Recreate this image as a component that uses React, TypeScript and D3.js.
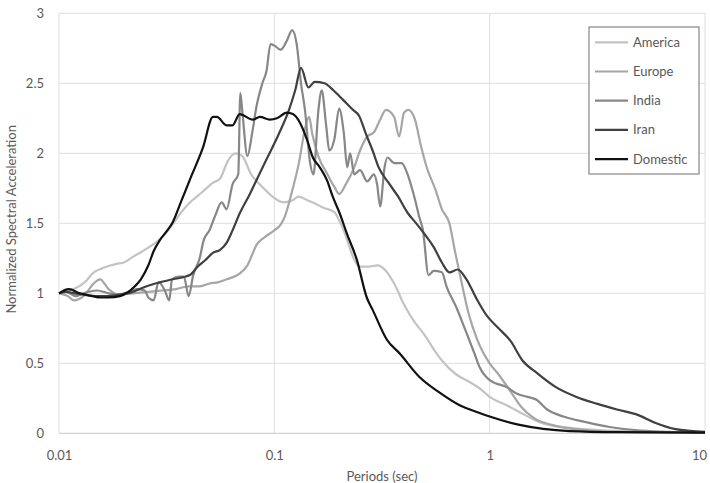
import { useRef, useEffect, FC } from 'react';
import * as d3 from 'd3';

// Normalized response spectra, period (sec) vs Sa
const americaT = [0.01, 0.0117, 0.0132, 0.0145, 0.016, 0.0185, 0.02, 0.022, 0.025, 0.028, 0.031, 0.034, 0.037, 0.04, 0.046, 0.052, 0.056, 0.061, 0.066, 0.071, 0.078, 0.088, 0.1, 0.11, 0.12, 0.13, 0.14, 0.15, 0.17, 0.19, 0.2, 0.21, 0.22, 0.235, 0.25, 0.275, 0.3, 0.33, 0.36, 0.4, 0.45, 0.5, 0.55, 0.6, 0.7, 0.8, 0.9, 1.0, 1.2, 1.4, 1.7, 2.3, 3.5, 10];
const americaSa = [1.0, 1.03, 1.08, 1.15, 1.18, 1.21, 1.22, 1.26, 1.31, 1.36, 1.42, 1.5, 1.58, 1.64, 1.72, 1.79, 1.82, 1.95, 2.0, 1.98, 1.85, 1.76, 1.68, 1.65, 1.66, 1.69, 1.67, 1.65, 1.61, 1.58, 1.52, 1.45, 1.36, 1.24, 1.19, 1.19, 1.2, 1.16, 1.07, 0.92, 0.79, 0.7, 0.6, 0.52, 0.42, 0.37, 0.32, 0.26, 0.2, 0.145, 0.08, 0.04, 0.02, 0.005];

const europeT = [0.01, 0.011, 0.0117, 0.013, 0.0145, 0.0155, 0.017, 0.019, 0.022, 0.026, 0.03, 0.035, 0.04, 0.045, 0.05, 0.055, 0.06, 0.069, 0.075, 0.083, 0.09, 0.1, 0.107, 0.112, 0.12, 0.13, 0.14, 0.145, 0.15, 0.16, 0.175, 0.19, 0.2, 0.215, 0.235, 0.25, 0.27, 0.29, 0.31, 0.33, 0.36, 0.38, 0.4, 0.42, 0.45, 0.48, 0.51, 0.56, 0.6, 0.65, 0.69, 0.74, 0.8, 0.87, 0.93, 1.0, 1.1, 1.25, 1.4, 1.6, 2.0, 2.7, 4, 10];
const europeSa = [1.0, 0.98, 0.95, 0.98, 1.07, 1.1, 1.03, 0.99, 1.0, 1.01, 1.02, 1.03, 1.05, 1.05, 1.07, 1.08, 1.1, 1.14, 1.2, 1.35, 1.4, 1.45, 1.49, 1.55, 1.71, 1.93, 2.2, 2.26, 2.14, 1.98, 1.86, 1.76, 1.71, 1.78, 1.9, 2.02, 2.12, 2.15, 2.24, 2.31, 2.26, 2.12, 2.29, 2.31, 2.24, 2.05, 1.9, 1.74, 1.6, 1.5, 1.3, 1.08, 0.85, 0.68, 0.58, 0.5, 0.42, 0.3, 0.19, 0.11, 0.055, 0.025, 0.01, 0.003];

const indiaT = [0.01, 0.0108, 0.012, 0.013, 0.015, 0.017, 0.019, 0.021, 0.023, 0.025, 0.026, 0.0275, 0.029, 0.031, 0.0325, 0.0335, 0.036, 0.038, 0.04, 0.042, 0.045, 0.047, 0.05, 0.053, 0.057, 0.06, 0.064, 0.068, 0.0695, 0.071, 0.075, 0.079, 0.083, 0.088, 0.092, 0.096, 0.1, 0.107, 0.114, 0.121, 0.127, 0.133, 0.139, 0.146, 0.152, 0.16, 0.166, 0.174, 0.18, 0.19, 0.2, 0.21, 0.218, 0.225, 0.235, 0.25, 0.27, 0.29, 0.3, 0.31, 0.325, 0.335, 0.36, 0.39, 0.42, 0.45, 0.47, 0.49, 0.52, 0.55, 0.6, 0.63, 0.7, 0.77, 0.85, 0.9, 1.0, 1.2, 1.35, 1.5, 1.65, 1.85, 2.2, 2.8, 3.6, 5, 10];
const indiaSa = [1.0, 1.01, 0.98, 1.0, 1.02, 1.0, 0.99, 1.01, 1.03, 1.02, 0.97, 0.95, 1.08, 1.02, 0.95, 1.1, 1.12, 1.12, 0.98, 1.13, 1.25, 1.38, 1.45, 1.55, 1.65, 1.6, 1.78, 1.85, 2.43, 2.3, 1.98, 2.15, 2.35, 2.5, 2.59, 2.78, 2.77, 2.74, 2.8, 2.88, 2.78, 2.5, 2.3, 1.95, 1.85, 2.3, 2.45, 2.2, 2.02, 2.1, 2.32, 2.15, 1.9, 2.0, 1.85, 1.88, 1.8, 1.85, 1.78, 1.62, 1.9, 1.97, 1.93, 1.93, 1.83, 1.67, 1.55, 1.45, 1.13, 1.16, 1.15, 1.05, 0.9, 0.74, 0.57, 0.47, 0.38, 0.33, 0.28, 0.26, 0.24, 0.17, 0.12, 0.08, 0.045, 0.02, 0.005];

const iranT = [0.01, 0.0108, 0.0118, 0.013, 0.0148, 0.0168, 0.019, 0.022, 0.0245, 0.028, 0.0338, 0.0405, 0.044, 0.048, 0.052, 0.056, 0.06, 0.064, 0.069, 0.077, 0.0857, 0.095, 0.105, 0.117, 0.125, 0.133, 0.144, 0.154, 0.171, 0.188, 0.209, 0.232, 0.247, 0.266, 0.286, 0.305, 0.339, 0.376, 0.418, 0.45, 0.5, 0.55, 0.6, 0.65, 0.71, 0.78, 0.87, 0.97, 1.1, 1.25, 1.42, 1.66, 2.03, 2.53, 3.17, 3.9, 4.9, 5.9, 7.3, 10];
const iranSa = [1.0, 1.01, 1.0, 0.99, 0.98, 0.98, 0.99, 1.01, 1.04, 1.07, 1.1, 1.13, 1.19, 1.24, 1.29, 1.31, 1.36, 1.45, 1.57, 1.71, 1.86, 2.0, 2.14, 2.31, 2.45, 2.61, 2.47, 2.51, 2.5, 2.45, 2.38, 2.31, 2.27, 2.14, 2.02, 1.9, 1.79, 1.69, 1.57, 1.51, 1.42, 1.33, 1.22, 1.15, 1.17, 1.1, 0.96, 0.84, 0.75, 0.66, 0.52, 0.43, 0.33, 0.26, 0.21, 0.17, 0.13, 0.074, 0.03, 0.01];

const domesticT = [0.01, 0.0111, 0.0125, 0.0143, 0.0155, 0.017, 0.0192, 0.021, 0.0225, 0.024, 0.026, 0.0275, 0.0294, 0.0315, 0.0338, 0.037, 0.0405, 0.0466, 0.0519, 0.0541, 0.06, 0.064, 0.069, 0.0795, 0.0857, 0.0953, 0.1028, 0.1143, 0.1219, 0.1313, 0.1416, 0.151, 0.1626, 0.1753, 0.1868, 0.2013, 0.2168, 0.2415, 0.2687, 0.2866, 0.3327, 0.3822, 0.4732, 0.5859, 0.7254, 0.898, 1.0, 1.378, 2.35, 4, 10];
const domesticSa = [1.0, 1.03, 1.0, 0.98, 0.97, 0.97, 0.98, 1.01, 1.05, 1.1, 1.2, 1.3, 1.38, 1.44, 1.51, 1.66, 1.81, 2.04, 2.26, 2.26, 2.2, 2.2, 2.28, 2.24, 2.26, 2.24, 2.25, 2.29, 2.28, 2.22, 2.1, 1.97, 1.9, 1.81, 1.69, 1.57, 1.43, 1.24, 0.97, 0.88, 0.67, 0.57, 0.4, 0.29, 0.2, 0.145, 0.12, 0.06, 0.016, 0.008, 0.005];

const seriesNames = ['America', 'Europe', 'India', 'Iran', 'Domestic'];
const seriesColors = ['#c3c3c3', '#a6a6a6', '#878787', '#404040', '#111111'];

const xTicks = [0.01, 0.1, 1, 10];
const yTicks = [0, 0.5, 1, 1.5, 2, 2.5, 3];

const font = 'Lato, "Open Sans", sans-serif';

const SpectraChart: FC = () => {
    const svgRef = useRef<SVGSVGElement | null>(null);
    const w = 710;
    const h = 483;
    const left = 59, right = 705, top = 13.3, bottom = 433.3;

    useEffect(() => {
        if (!svgRef.current) return;
        const svg = d3.select(svgRef.current);
        svg.selectAll('*').remove();

        svg.append('rect').attr('width', w).attr('height', h).attr('fill', '#ffffff');

        const xScale = d3.scaleLog().domain([0.01, 10]).range([left, right]);
        const yScale = d3.scaleLinear().domain([0, 3]).range([bottom, top]);

        // gridlines
        const grid = svg.append('g');
        grid.selectAll('.hgrid')
            .data(yTicks.filter(d => d > 0))
            .join('line')
            .attr('x1', left).attr('x2', right)
            .attr('y1', d => yScale(d)).attr('y2', d => yScale(d))
            .attr('stroke', '#dedede').attr('stroke-width', 1);
        grid.selectAll('.vgrid')
            .data(xTicks)
            .join('line')
            .attr('x1', d => xScale(d)).attr('x2', d => xScale(d))
            .attr('y1', top).attr('y2', bottom)
            .attr('stroke', '#dedede').attr('stroke-width', 1);
        grid.append('line')
            .attr('x1', left).attr('x2', right)
            .attr('y1', bottom).attr('y2', bottom)
            .attr('stroke', '#c8c8c8').attr('stroke-width', 1);

        // axes (labels only)
        const xAxis = d3.axisBottom(xScale)
            .tickValues(xTicks)
            .tickFormat(d => String(d))
            .tickSize(0)
            .tickPadding(17);
        const gx = svg.append('g').attr('transform', `translate(0,${bottom})`).call(xAxis);
        gx.select('.domain').remove();
        gx.selectAll('text').attr('fill', '#595959').style('font-size', '13px').style('font-family', font);
        // last label sits at the right edge; nudge it inside
        gx.selectAll<SVGTextElement, number>('text').filter(d => d === 10).attr('x', -6);

        const yAxis = d3.axisLeft(yScale)
            .tickValues(yTicks)
            .tickFormat(d => String(d))
            .tickSize(0)
            .tickPadding(15);
        const gy = svg.append('g').attr('transform', `translate(${left},0)`).call(yAxis);
        gy.select('.domain').remove();
        gy.selectAll('text').attr('fill', '#595959').style('font-size', '13px').style('font-family', font);

        // axis titles
        svg.append('text')
            .attr('x', (left + right) / 2).attr('y', 481)
            .attr('text-anchor', 'middle')
            .attr('fill', '#595959')
            .style('font-size', '13px').style('font-family', font)
            .text('Periods (sec)');
        svg.append('text')
            .attr('transform', `translate(16,${(top + bottom) / 2 - 4}) rotate(-90)`)
            .attr('text-anchor', 'middle')
            .attr('fill', '#595959')
            .style('font-size', '13px').style('font-family', font)
            .text('Normalized Spectral Acceleration');

        // series
        const allT = [americaT, europeT, indiaT, iranT, domesticT];
        const allSa = [americaSa, europeSa, indiaSa, iranSa, domesticSa];
        const line = d3.line<[number, number]>()
            .x(d => xScale(d[0]))
            .y(d => yScale(d[1]))
            .curve(d3.curveMonotoneX);

        seriesNames.forEach((name, i) => {
            const pts = allT[i].map((t, j) => [t, allSa[i][j]] as [number, number]);
            svg.append('path')
                .datum(pts)
                .attr('class', `line-${name}`)
                .attr('fill', 'none')
                .attr('stroke', seriesColors[i])
                .attr('stroke-width', 2.2)
                .attr('stroke-linejoin', 'round')
                .attr('d', line);
        });

        // legend
        const lg = svg.append('g').attr('transform', 'translate(589,27)');
        lg.append('rect')
            .attr('width', 110).attr('height', 147)
            .attr('fill', '#ffffff')
            .attr('stroke', '#6e6e6e').attr('stroke-width', 1);
        seriesNames.forEach((name, i) => {
            const yy = 15.3 + i * 29.2;
            lg.append('line')
                .attr('x1', 6).attr('x2', 39)
                .attr('y1', yy).attr('y2', yy)
                .attr('stroke', seriesColors[i]).attr('stroke-width', 2.2);
            lg.append('text')
                .attr('x', 44).attr('y', yy).attr('dy', '0.35em')
                .attr('fill', '#595959')
                .style('font-size', '13px').style('font-family', font)
                .text(name);
        });
    }, []);

    return (
        <svg ref={svgRef} width={w} height={h} style={{ position: 'absolute', left: 0, top: 0 }}></svg>
    );
};

export default function App() {
    return <SpectraChart />;
}
